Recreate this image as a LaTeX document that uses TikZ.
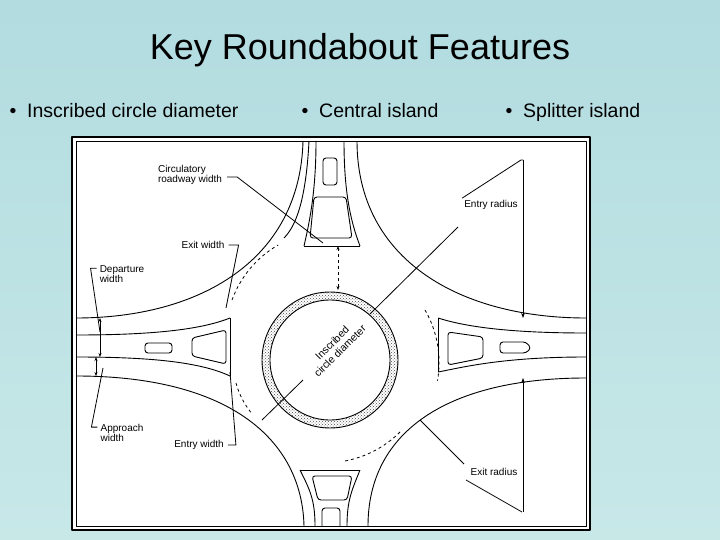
\documentclass[tikz,border=0pt]{standalone}
\usepackage{fontspec}
\setmainfont{Liberation Sans}
\usetikzlibrary{arrows.meta,patterns}
\definecolor{bgtop}{RGB}{178,220,224}
\definecolor{bgbot}{RGB}{200,232,232}
\begin{document}
\begin{tikzpicture}[x=1pt,y=-1pt,line join=round,
  road/.style={line width=0.9pt},
  lbl/.style={font=\fontsize{10}{10}\selectfont,align=left,inner sep=0pt},
  lead/.style={line width=0.8pt},
  dim/.style={line width=0.7pt,{Stealth[length=4pt]}-{Stealth[length=4pt]}},
  isl/.style={line width=0.9pt,rounded corners=3pt}]
\useasboundingbox (0,0) rectangle (720,540);
\shade[top color=bgtop,bottom color=bgbot] (0,0) rectangle (720,540);
\node (title) at (360,50) {\fontsize{36}{36}\selectfont Key Roundabout Features};
\node[anchor=base west] (b1) at (6,118) {\fontsize{19.5}{19.5}\selectfont •\ \ Inscribed circle diameter};
\node[anchor=base west] (b2) at (298,118) {\fontsize{19.5}{19.5}\selectfont •\ \ Central island};
\node[anchor=base west] (b3) at (502,118) {\fontsize{19.5}{19.5}\selectfont •\ \ Splitter island};
% frame
\node[draw,line width=2.5pt,fill=white,minimum width=518pt,minimum height=393pt,inner sep=0pt] (frame) at (331,333.5) {};
\draw[line width=0.5pt] (76,141) rectangle (586,526);
\begin{scope}
\clip (76,141) rectangle (586,526);
% corner curves
\draw[road] (303,141) .. controls (300,260) and (200,318) .. (76,318);
\draw[road] (309,141) .. controls (306,200) and (296,226) .. (284,238);
\draw[road] (357,141) .. controls (357,260) and (460,318) .. (586,318);
\draw[road] (586,378) .. controls (450,378) and (368,430) .. (368,526);
\draw[road] (76,376) .. controls (230,376) and (302,440) .. (304,526);
% inscribed circle dashed parts
\draw[dashed,line width=0.8pt] (232,300) arc (200:240:105);
\draw[dashed,line width=0.8pt] (425,310) arc (-30:10:105);
\draw[dashed,line width=0.8pt] (400,432) arc (45:80:105);
\draw[dashed,line width=0.8pt] (236,383) arc (165:140:80);
% central island
\fill[even odd rule,pattern=crosshatch dots,pattern color=black!70] (330,360) circle (68) (330,360) circle (60);
\draw[line width=0.9pt] (330,360) circle (68) (330,360) circle (60);
% left approach
\draw[road] (76,335) .. controls (150,335) and (200,330) .. (230,318);
\draw[road] (76,357) .. controls (150,357) and (200,362) .. (230,376);
\draw[road] (230,318) -- (230,376);
\draw[isl] (192,338) -- (226,330) -- (226,364) -- (192,356) -- cycle;
\draw[isl] (145,343) rectangle (172,353);
% right approach
\draw[road] (586,333) .. controls (500,333) and (460,325) .. (438,318);
\draw[road] (586,357) .. controls (500,357) and (460,368) .. (438,372);
\draw[road] (438,318) -- (438,372);
\draw[isl] (448,332) -- (483,337) -- (483,358) -- (448,365) -- cycle;
\draw[isl] (500,342) -- (526,342) -- (531,348) -- (526,353) -- (500,353) -- cycle;
% top approach
\draw[road] (316,141) .. controls (316,190) and (310,220) .. (304,246);
\draw[road] (344,141) .. controls (344,190) and (350,220) .. (360,246);
\draw[road] (304,246) -- (360,246);
\draw[isl] (314,197) -- (346,197) -- (352,238) -- (310,238) -- cycle;
\draw[isl] (323,158) rectangle (337,185);
% bottom approach
\draw[road] (300,470) .. controls (310,490) and (315,500) .. (315,526);
\draw[road] (360,470) .. controls (352,490) and (347,500) .. (347,526);
\draw[road] (300,470) -- (360,470);
\draw[isl] (312,476) -- (352,476) -- (347,500) -- (318,500) -- cycle;
\draw[isl] (322,508) rectangle (340,530);
% diameter line
\coordinate (d1) at (262,420);
\coordinate (d2) at (458,227);
\draw[lead] (d1) -- (303,380);
\draw[lead] (370,314) -- (d2);
\node[lbl,rotate=45,align=center,font=\fontsize{10.5}{11}\selectfont] (dia) at (336,347) {Inscribed\\circle diameter};
% labels
\node[lbl] (crw) at (190,175) {Circulatory\\roadway width};
\coordinate (c1) at (323,243);
\draw[lead] (crw.east) ++(5,2) -- ++(10,0) -- (c1);
\coordinate (ct) at (338,246); \coordinate (cb) at (338,290);
\draw[dim,dashed] (ct) -- (cb);
\node[lbl] (exw) at (203,245) {Exit width};
\draw[lead] (exw.east) ++(4,0) -- ++(10,0) -- (226,308);
\node[lbl] (dep) at (122,274) {Departure\\width};
\draw[lead] (dep.north west) ++(-3,3) -- ++(-6,0) -- (100,332);
\draw[dim] (100,318) -- (100,357);
\node[lbl] (app) at (122,433) {Approach\\width};
\draw[lead] (app.north west) ++(-3,3) -- ++(-6,0) -- (103,368);
\draw[dim] (96,357) -- (96,376);
\node[lbl] (enw) at (199,445) {Entry width};
\draw[lead] (enw.east) ++(4,0) -- ++(8,0) -- (230,372);
\node[lbl] (enr) at (491,205) {Entry radius};
\draw[lead] (enr.north west) ++(-2,-2) -- (521,160) -- (523,160);
\draw[lead,-{Stealth[length=5pt]}] (523,160) -- (523,318);
\node[lbl] (exr) at (494,472) {Exit radius};
\draw[lead] (464,464) -- (420,420);
\draw[lead] (466,480) -- (522,512);
\draw[lead,-{Stealth[length=5pt]}] (523,512) -- (523,378);
\end{scope}
\end{tikzpicture}
\end{document}
